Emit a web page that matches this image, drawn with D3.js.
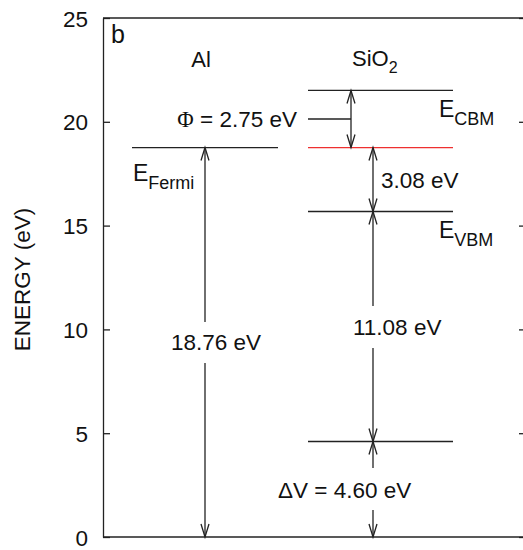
<!DOCTYPE html>
<html>
<head>
<meta charset="utf-8">
<script src="https://cdn.jsdelivr.net/npm/d3@7"></script>
<style>
  html, body { margin: 0; padding: 0; background: #fff; }
  svg { display: block; }
  text { font-family: "Liberation Sans", Arial, Helvetica, sans-serif; fill: #111; }
</style>
</head>
<body>
<svg id="chart" width="523" height="550"></svg>
<script>
// ---- data ----
const yTicks = [0, 5, 10, 15, 20, 25];
const fermiLevel = 18.76;        // Al Fermi level (also the red line in SiO2)
const workFunction = 2.75;       // Phi
const gapAbove = 3.08;           // E_Fermi - E_VBM
const valenceDrop = 11.08;       // E_VBM - lower level
const deltaV = 4.60;             // lower level - 0
const columnTitles = ["Al", "SiO"];
const levelLabels = ["Fermi", "CBM", "VBM"];

(function () {
// derived levels
const eCBM = fermiLevel + workFunction;
const eVBM = fermiLevel - gapAbove;
const eLow = eVBM - valenceDrop;

const svg = d3.select("#chart");
const mLeft = 103, mRight = 526, mTop = 18, mBottom = 537;

const y = d3.scaleLinear().domain([0, 25]).range([mBottom, mTop]);

const ink = "#222";
const sw = 1.3;

// ---- axes ----
const yAxisL = d3.axisLeft(y).tickValues(yTicks).tickSizeInner(-7).tickSizeOuter(0).tickPadding(15);
const gL = svg.append("g").attr("transform", `translate(${mLeft},0)`).call(yAxisL);
gL.select(".domain").attr("stroke", ink).attr("stroke-width", sw);
gL.selectAll(".tick line").attr("stroke", ink).attr("stroke-width", sw);
gL.selectAll(".tick text").attr("font-size", 22.5).attr("font-family", "Liberation Sans, Arial, sans-serif").attr("fill", "#111").attr("dy", "0.36em");

const yAxisR = d3.axisRight(y).tickValues(yTicks).tickSizeInner(-7).tickSizeOuter(0).tickFormat("");
const gR = svg.append("g").attr("transform", `translate(${mRight},0)`).call(yAxisR);
gR.select(".domain").attr("stroke", ink).attr("stroke-width", sw);
gR.selectAll(".tick line").attr("stroke", ink).attr("stroke-width", sw);

// top & bottom frame
svg.append("line").attr("x1", mLeft).attr("x2", mRight).attr("y1", y(25)).attr("y2", y(25)).attr("stroke", ink).attr("stroke-width", sw);
svg.append("line").attr("x1", mLeft).attr("x2", mRight).attr("y1", y(0)).attr("y2", y(0)).attr("stroke", ink).attr("stroke-width", sw);

// axis title
svg.append("text")
  .attr("transform", `translate(${30},${y(12.5) + 2}) rotate(-90)`)
  .attr("text-anchor", "middle")
  .attr("font-size", 22.5)
  .text("ENERGY (eV)");

// panel letter
svg.append("text").attr("x", 111).attr("y", 43).attr("font-size", 25).text("b");

// ---- level lines ----
const alX = [132, 278];
const siX = [308, 453];
function hline(e, xs, color) {
  svg.append("line").attr("x1", xs[0]).attr("x2", xs[1]).attr("y1", y(e)).attr("y2", y(e))
    .attr("stroke", color || ink).attr("stroke-width", sw);
}
hline(fermiLevel, alX);
hline(eCBM, siX);
hline(fermiLevel, siX, "#ee3030");
hline(eVBM, siX);
hline(eLow, siX);
// leader for Phi label
hline((eCBM + fermiLevel) / 2, [siX[0], 351]);

// ---- arrows ----
const headL = 13, headW = 4;
function head(xp, yp, dir) { // dir = -1 points up, +1 points down
  svg.append("path")
    .attr("d", `M${xp - headW},${yp - dir * headL} L${xp},${yp} L${xp + headW},${yp - dir * headL}`)
    .attr("fill", "none").attr("stroke", ink).attr("stroke-width", sw);
}
function darrow(xp, eTop, eBot, gap) {
  const y1 = y(eTop), y2 = y(eBot);
  if (gap) {
    svg.append("line").attr("x1", xp).attr("x2", xp).attr("y1", y1).attr("y2", gap[0]).attr("stroke", ink).attr("stroke-width", sw);
    svg.append("line").attr("x1", xp).attr("x2", xp).attr("y1", gap[1]).attr("y2", y2).attr("stroke", ink).attr("stroke-width", sw);
  } else {
    svg.append("line").attr("x1", xp).attr("x2", xp).attr("y1", y1).attr("y2", y2).attr("stroke", ink).attr("stroke-width", sw);
  }
  head(xp, y1, -1);
  head(xp, y2, 1);
}

const alArrowX = 205, phiX = 351, siArrowX = 373;

function label(xp, yb, txt, anchor) {
  return svg.append("text").attr("x", xp).attr("y", yb).attr("font-size", 22.5)
    .attr("text-anchor", anchor || "start").text(txt);
}

const alLabY = 350, vbLabY = 335, dvLabY = 498;
darrow(alArrowX, fermiLevel, 0, [alLabY - 28, alLabY + 13]);
darrow(phiX, eCBM, fermiLevel);
darrow(siArrowX, fermiLevel, eVBM);
darrow(siArrowX, eVBM, eLow, [vbLabY - 29, vbLabY + 13]);
darrow(siArrowX, eLow, 0, [dvLabY - 30, dvLabY + 12]);

label(171, alLabY, fermiLevel.toFixed(2) + " eV");
label(353, vbLabY, valenceDrop.toFixed(2) + " eV");
label(381, 188, gapAbove.toFixed(2) + " eV");
label(278, dvLabY, "\u0394V = " + deltaV.toFixed(2) + " eV");

const phiT = svg.append("text").attr("x", 297).attr("y", 127).attr("font-size", 22.5).attr("text-anchor", "end");
phiT.append("tspan").attr("font-family", "Liberation Serif, Times New Roman, serif").text("\u03A6");
phiT.append("tspan").text(" = " + workFunction.toFixed(2) + " eV");

// column titles
svg.append("text").attr("x", 201).attr("y", 67).attr("font-size", 22).attr("text-anchor", "middle").text(columnTitles[0]);
const si = svg.append("text").attr("x", 352).attr("y", 66).attr("font-size", 22);
si.append("tspan").text(columnTitles[1]);
si.append("tspan").attr("font-size", 16).attr("dy", 7).text("2");

// level labels E_x
function eLabel(xp, yb, sub) {
  const t = svg.append("text").attr("x", xp).attr("y", yb).attr("font-size", 23);
  t.append("tspan").text("E");
  t.append("tspan").attr("font-size", 18).attr("dy", 8).text(sub);
}
eLabel(133, 181, levelLabels[0]);
eLabel(439, 117, levelLabels[1]);
eLabel(439, 238, levelLabels[2]);
})();
</script>
</body>
</html>
